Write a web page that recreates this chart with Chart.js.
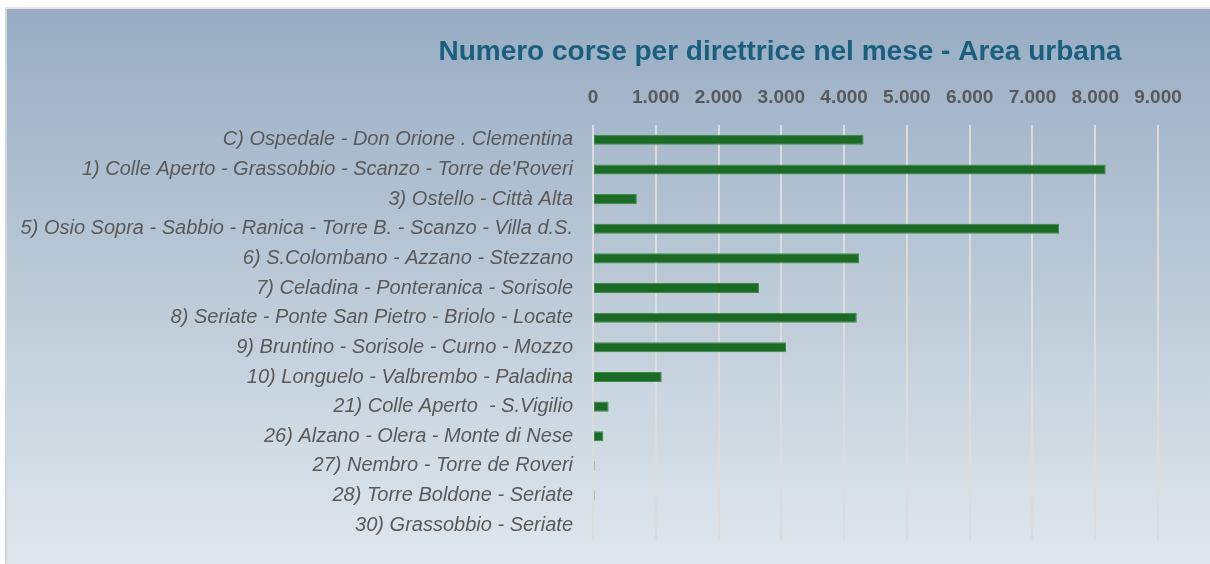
<!DOCTYPE html>
<html>
<head>
<meta charset="utf-8">
<script src="https://cdn.jsdelivr.net/npm/chart.js@4.4.1/dist/chart.umd.min.js"></script>
<style>
  html, body { margin: 0; padding: 0; background: #ffffff; }
  #frame {
    position: absolute; left: 5px; top: 7px; width: 1205px; height: 557px;
    box-sizing: border-box;
    border-left: 2px solid #d4d6d8; border-top: 2px solid #e4e6e8;
    background: linear-gradient(to bottom, #97acc3 0%, #bccad7 50%, #dfe7ed 100%);
  }
  #wrap { position: absolute; left: 0; top: 0; width: 1210px; height: 564px; }
</style>
</head>
<body>
<div id="frame"></div>
<div id="wrap"><canvas id="c" width="1210" height="564"></canvas></div>
<script>
const chartTitle = "Numero corse per direttrice nel mese - Area urbana";
const categories = [
  "C) Ospedale - Don Orione . Clementina",
  "1) Colle Aperto - Grassobbio - Scanzo - Torre de'Roveri",
  "3) Ostello - Città Alta",
  "5) Osio Sopra - Sabbio - Ranica - Torre B. - Scanzo - Villa d.S.",
  "6) S.Colombano - Azzano - Stezzano",
  "7) Celadina - Ponteranica - Sorisole",
  "8) Seriate - Ponte San Pietro - Briolo - Locate",
  "9) Bruntino - Sorisole - Curno - Mozzo",
  "10) Longuelo - Valbrembo - Paladina",
  "21) Colle Aperto  - S.Vigilio",
  "26) Alzano - Olera - Monte di Nese",
  "27) Nembro - Torre de Roveri",
  "28) Torre Boldone - Seriate",
  "30) Grassobbio - Seriate"
];
const corse = [4310, 8167, 698, 7424, 4240, 2645, 4202, 3074, 1095, 249, 166, 25, 25, 0];
const xTicks = [0, 1000, 2000, 3000, 4000, 5000, 6000, 7000, 8000, 9000];
const xMin = 0, xMax = 9000, xStep = 1000;

const fmt = v => v === 0 ? "0" : v.toLocaleString("it-IT").replace(/\u00a0|,/g, ".");

const titlePlugin = {
  id: 'customTitle',
  afterDraw(chart) {
    const ctx = chart.ctx;
    ctx.save();
    ctx.font = "bold 28px 'Liberation Sans', Arial, sans-serif";
    ctx.fillStyle = "#1b5f7f";
    ctx.textAlign = "center";
    ctx.textBaseline = "middle";
    ctx.fillText(chartTitle, 780, 52);
    ctx.restore();
  }
};

new Chart(document.getElementById('c'), {
  type: 'bar',
  data: {
    labels: categories,
    datasets: [{
      label: 'Numero corse',
      data: corse,
      backgroundColor: '#1b6a25',
      borderColor: '#3e8a49',
      borderWidth: 1,
      borderSkipped: false,
      categoryPercentage: 1,
      barPercentage: 0.34
    }]
  },
  options: {
    indexAxis: 'y',
    responsive: false,
    animation: false,
    layout: { padding: { left: 0, top: 83, right: 52, bottom: 16 } },
    plugins: { legend: { display: false }, tooltip: { enabled: false }, title: { display: false } },
    scales: {
      x: {
        position: 'top',
        min: xMin, max: xMax,
        afterFit: s => { s.height = 42; },
        afterBuildTicks: s => { s.ticks = xTicks.map(v => ({ value: v })); },
        ticks: {
          stepSize: xStep,
          padding: 16,
          color: '#595959',
          font: { family: "'Liberation Sans', Arial, sans-serif", size: 19, weight: 'bold' },
          callback: v => fmt(v)
        },
        grid: { color: '#dcdcdc', lineWidth: 2, drawTicks: false },
        border: { display: false }
      },
      y: {
        afterFit: s => { s.width = 593; },
        ticks: {
          padding: 12,
          color: '#595959',
          font: { family: "'Liberation Sans', Arial, sans-serif", size: 20, style: 'italic' }
        },
        grid: { display: false },
        border: { display: false }
      }
    }
  },
  plugins: [titlePlugin]
});
</script>
</body>
</html>
